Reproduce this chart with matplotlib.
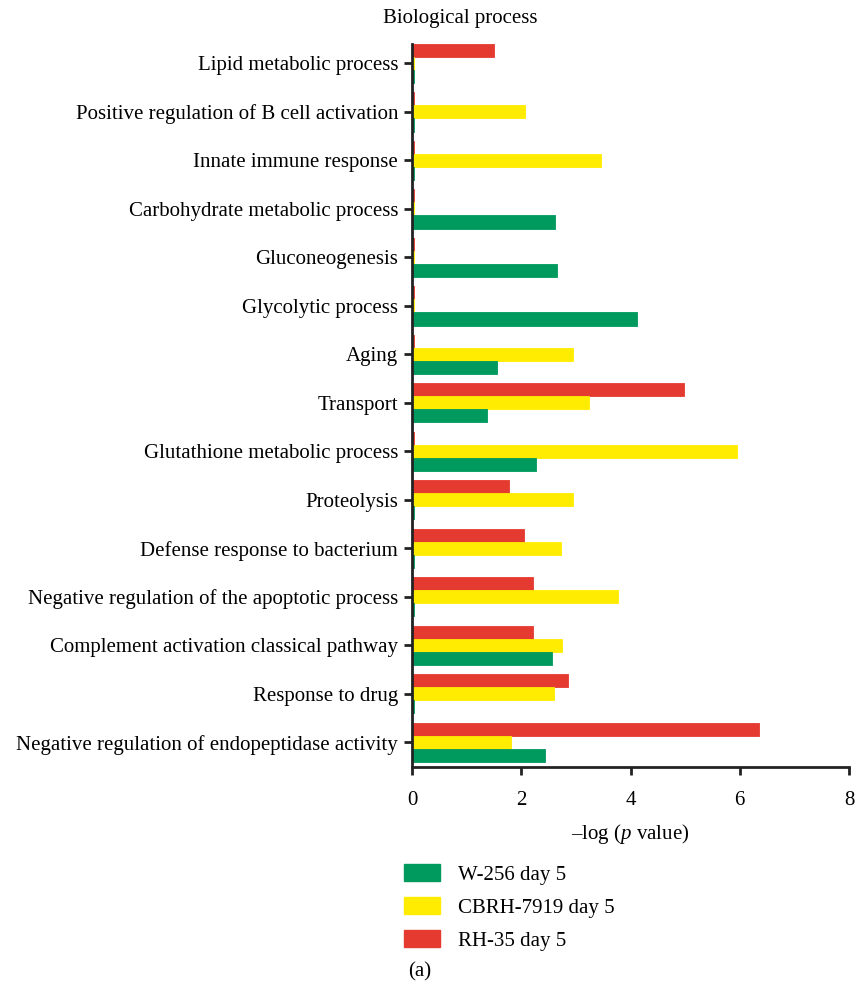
import matplotlib
matplotlib.use("Agg")
import matplotlib.pyplot as plt
import numpy as np
from matplotlib.patches import Patch

categories = [
    "Lipid metabolic process",
    "Positive regulation of B cell activation",
    "Innate immune response",
    "Carbohydrate metabolic process",
    "Gluconeogenesis",
    "Glycolytic process",
    "Aging",
    "Transport",
    "Glutathione metabolic process",
    "Proteolysis",
    "Defense response to bacterium",
    "Negative regulation of the apoptotic process",
    "Complement activation classical pathway",
    "Response to drug",
    "Negative regulation of endopeptidase activity",
]

rh35 = [1.50, 0.03, 0.03, 0.03, 0.03, 0.03, 0.03, 4.98, 0.03, 1.78, 2.05, 2.22, 2.22, 2.86, 6.35]
cbrh7919 = [0.03, 2.07, 3.46, 0.03, 0.03, 0.03, 2.95, 3.24, 5.95, 2.95, 2.73, 3.77, 2.75, 2.59, 1.81]
w256 = [0.03, 0.03, 0.03, 2.62, 2.66, 4.12, 1.56, 1.37, 2.27, 0.03, 0.03, 0.03, 2.57, 0.03, 2.44]

series_labels = ["W-256 day 5", "CBRH-7919 day 5", "RH-35 day 5"]
GREEN = "#00995E"
YELLOW = "#FFEC00"
RED = "#E53A30"

plt.rcParams["font.family"] = ["Liberation Serif", "DejaVu Serif"]
plt.rcParams["font.size"] = 15
plt.rcParams["mathtext.fontset"] = "custom"
plt.rcParams["mathtext.it"] = "Liberation Serif:italic"
plt.rcParams["mathtext.rm"] = "Liberation Serif"

fig = plt.figure(figsize=(8.55, 9.85), dpi=100)
ax = fig.add_axes([0.4819, 0.2213, 0.5111, 0.734])

y = np.arange(len(categories))
h = 0.27
for values, offset, color in [(rh35, -h, RED), (cbrh7919, 0.0, YELLOW), (w256, h, GREEN)]:
    ax.barh(y + offset, values, height=h, color=color, edgecolor=color,
            linewidth=0.6, joinstyle="round")

ax.set_ylim(14.51, -0.4)
ax.set_xlim(0, 8)
ax.set_xticks([0, 2, 4, 6, 8])
ax.set_yticks(y)
ax.set_yticklabels(categories)
ax.tick_params(axis="both", direction="out", length=6, width=2, color="#222222", pad=4)
ax.tick_params(axis="x", pad=11)
for side in ["top", "right"]:
    ax.spines[side].set_visible(False)
for side in ["left", "bottom"]:
    ax.spines[side].set_linewidth(2)
    ax.spines[side].set_color("#222222")
ax.set_xlabel("\u2013log ($p$ value)", labelpad=9)

fig.text(460 / 855, 1 - 18 / 985, "Biological process", ha="center", va="center")

handles = [Patch(facecolor=c, edgecolor=c) for c in (GREEN, YELLOW, RED)]
fig.legend(handles, series_labels, loc="upper left", bbox_to_anchor=(404 / 855, 1 - 864 / 985),
           frameon=False, borderpad=0, borderaxespad=0, handlelength=1.75,
           handleheight=0.85, handletextpad=0.85, labelspacing=0.6)

fig.text(420 / 855, 1 - 972 / 985, "(a)", ha="center", va="center")

fig.savefig("out.png", dpi=100)
